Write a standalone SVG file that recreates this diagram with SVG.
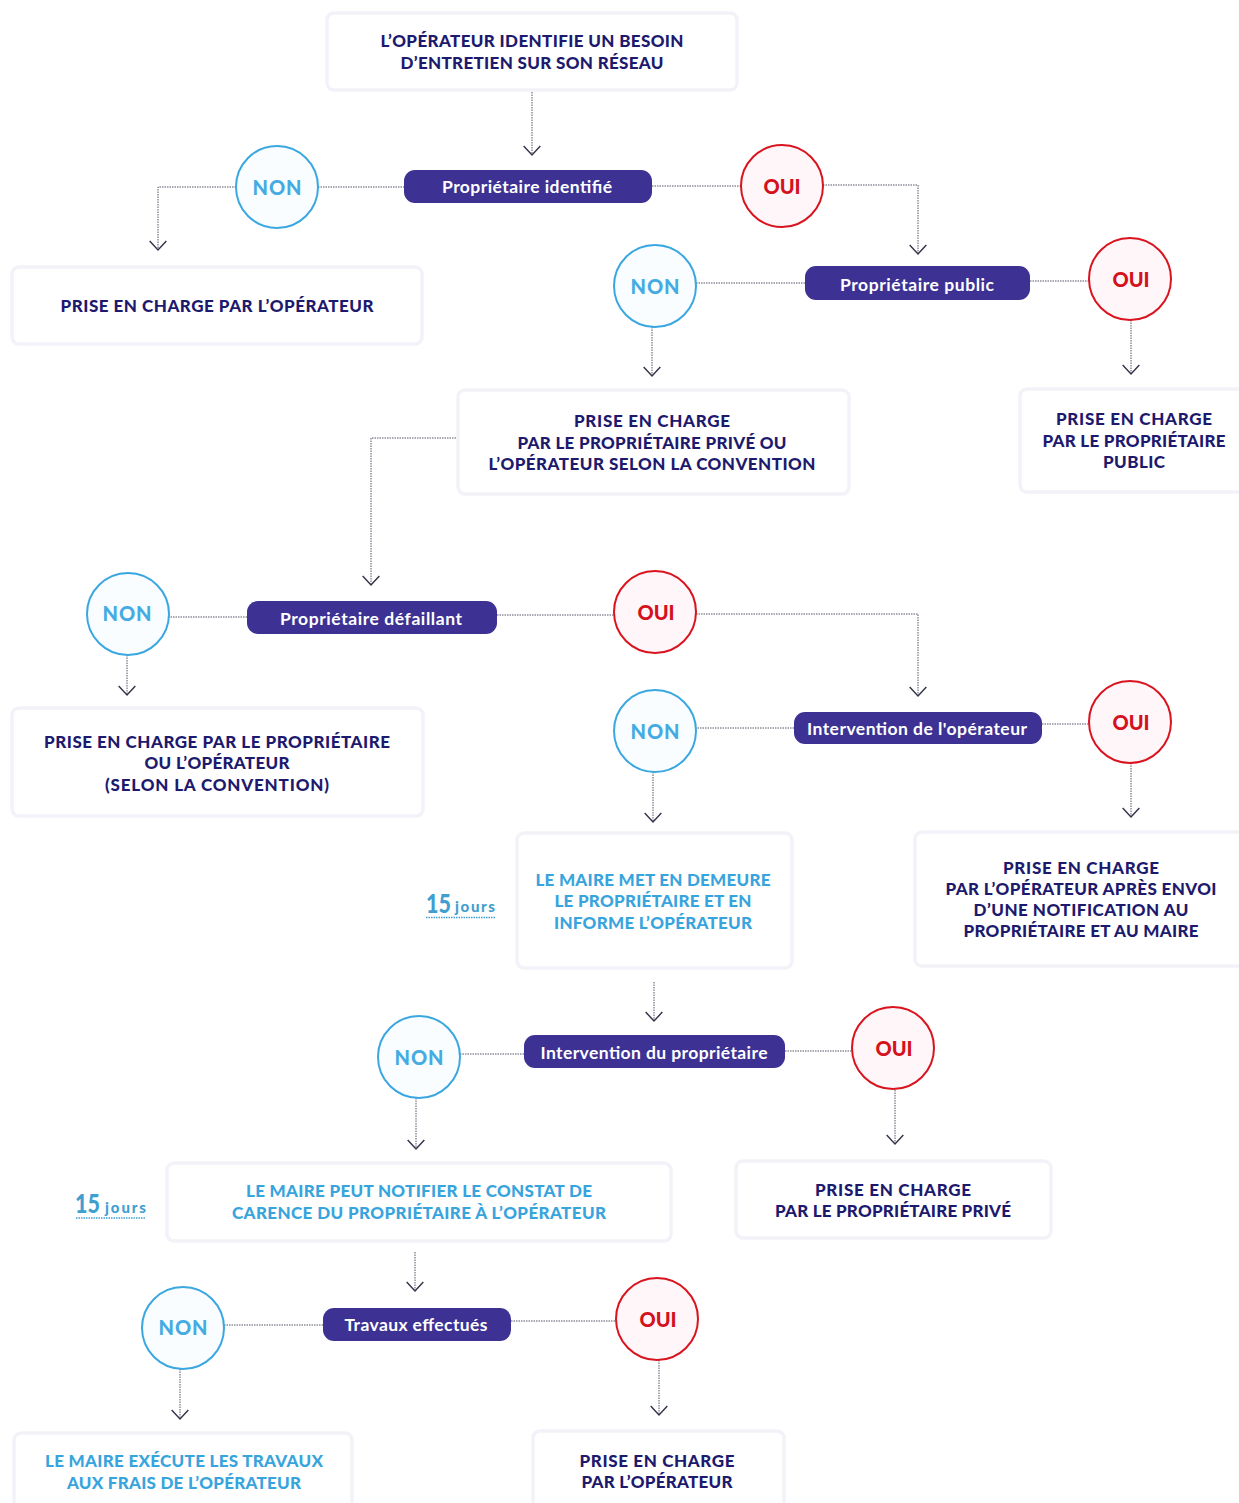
<svg xmlns="http://www.w3.org/2000/svg" width="1239" height="1503" viewBox="0 0 1239 1503">
<defs>
<marker id="a" markerUnits="userSpaceOnUse" markerWidth="20" markerHeight="14" refX="9" refY="9.5" viewBox="0 0 18 11" orient="auto-start-reverse" overflow="visible">
<path d="M1.5 1.500L9 9.500L16.500 1.500" transform="rotate(-90 9 9.500)" fill="none" stroke="#33334a" stroke-width="1.300" stroke-dasharray="none"/>
</marker>
<style>
text{font-family:"Lato","Open Sans","Liberation Sans",sans-serif;text-anchor:middle}
.box{fill:#fff;stroke:#f2f2f9;stroke-width:3.500}
.t{font-size:17px;font-weight:900;fill:#1d1a6e}
.b{font-size:17px;font-weight:900;fill:#38a4dd}
.pill{fill:#3d3294}
.p{font-size:17.500px;font-weight:700;fill:#fff}
.non{fill:#fafdff;stroke:#3aa7e0;stroke-width:2}
.oui{fill:#fef6f9;stroke:#d9141f;stroke-width:2}
.nt{font-size:20px;font-weight:900;fill:#45abe2}
.ot{font-size:20px;font-weight:900;fill:#d4111c}
.c{fill:none;stroke:#55556a;stroke-width:1;stroke-dasharray:1.500 1}
.ar{marker-end:url(#a)}
.big{font-size:26px;font-weight:900;fill:#3f9fd0;text-anchor:start}
.sm{font-size:15px;font-weight:900;fill:#3f9fd0;text-anchor:start}
.u{stroke:#3f9fd0;stroke-width:1.500;stroke-dasharray:1.500 1;fill:none}
</style>
</defs>
<g id="connectors">
<path class="c ar" d="M532 92V155"/>
<path class="c" d="M318 187H404"/>
<path class="c ar" d="M236 187H158V250"/>
<path class="c" d="M652 186H741"/>
<path class="c ar" d="M823 185H918V254"/>
<path class="c" d="M805 283H696"/>
<path class="c ar" d="M652 327V376"/>
<path class="c" d="M1030 281H1089"/>
<path class="c ar" d="M1131 320V374"/>
<path class="c ar" d="M456 438H371V585"/>
<path class="c" d="M247 617H169"/>
<path class="c ar" d="M127 655V695"/>
<path class="c" d="M497 615H614"/>
<path class="c ar" d="M696 614H918V696"/>
<path class="c" d="M794 728H696"/>
<path class="c ar" d="M653 772V822"/>
<path class="c" d="M1042 724H1089"/>
<path class="c ar" d="M1131 763V817"/>
<path class="c ar" d="M654 982V1021"/>
<path class="c" d="M524 1054H460"/>
<path class="c" d="M785 1051H853"/>
<path class="c ar" d="M416 1098V1149"/>
<path class="c ar" d="M895 1090V1144"/>
<path class="c ar" d="M415 1252V1291"/>
<path class="c" d="M323 1325H224"/>
<path class="c" d="M511 1321H617"/>
<path class="c ar" d="M180 1369V1419"/>
<path class="c ar" d="M659 1360V1415"/>
</g>
<g id="box-besoin"><rect class="box" x="327" y="13" width="410" height="77" rx="7"/><text class="t" x="532" y="47" textLength="303">L’OPÉRATEUR IDENTIFIE UN BESOIN</text><text class="t" x="532" y="68.500" textLength="263">D’ENTRETIEN SUR SON RÉSEAU</text></g>
<g id="box-operateur"><rect class="box" x="12" y="267" width="410" height="77" rx="7"/><text class="t" x="217" y="312" textLength="313">PRISE EN CHARGE PAR L’OPÉRATEUR</text></g>
<g id="box-prive-convention"><rect class="box" x="458" y="390" width="391" height="104" rx="7"/><text class="t" x="652" y="427" textLength="156">PRISE EN CHARGE</text><text class="t" x="652" y="449" textLength="269">PAR LE PROPRIÉTAIRE PRIVÉ OU</text><text class="t" x="652" y="470" textLength="327">L’OPÉRATEUR SELON LA CONVENTION</text></g>
<g id="box-public"><rect class="box" x="1020" y="389" width="225" height="103" rx="7"/><text class="t" x="1134" y="425" textLength="156">PRISE EN CHARGE</text><text class="t" x="1134" y="447" textLength="183">PAR LE PROPRIÉTAIRE</text><text class="t" x="1134" y="468" textLength="62">PUBLIC</text></g>
<g id="box-defaillant-non"><rect class="box" x="12" y="708" width="411" height="108" rx="7"/><text class="t" x="217" y="748" textLength="346">PRISE EN CHARGE PAR LE PROPRIÉTAIRE</text><text class="t" x="217" y="769" textLength="145">OU L’OPÉRATEUR</text><text class="t" x="217" y="791" textLength="224">(SELON LA CONVENTION)</text></g>
<g id="box-maire-demeure"><rect class="box" x="517" y="833" width="275" height="135" rx="7"/><text class="b" x="653" y="886" textLength="235">LE MAIRE MET EN DEMEURE</text><text class="b" x="653" y="907" textLength="197">LE PROPRIÉTAIRE ET EN</text><text class="b" x="653" y="929" textLength="198">INFORME L’OPÉRATEUR</text></g>
<g id="box-notification"><rect class="box" x="915" y="832" width="330" height="134" rx="7"/><text class="t" x="1081" y="874" textLength="156">PRISE EN CHARGE</text><text class="t" x="1081" y="895" textLength="271">PAR L’OPÉRATEUR APRÈS ENVOI</text><text class="t" x="1081" y="916" textLength="215">D’UNE NOTIFICATION AU</text><text class="t" x="1081" y="937" textLength="235">PROPRIÉTAIRE ET AU MAIRE</text></g>
<g id="box-constat"><rect class="box" x="167" y="1163" width="504" height="78" rx="7"/><text class="b" x="419" y="1197" textLength="346">LE MAIRE PEUT NOTIFIER LE CONSTAT DE</text><text class="b" x="419" y="1218.500" textLength="374">CARENCE DU PROPRIÉTAIRE À L’OPÉRATEUR</text></g>
<g id="box-prive"><rect class="box" x="736" y="1161" width="315" height="77" rx="7"/><text class="t" x="893" y="1196" textLength="156">PRISE EN CHARGE</text><text class="t" x="893" y="1217" textLength="236">PAR LE PROPRIÉTAIRE PRIVÉ</text></g>
<g id="box-travaux-maire"><rect class="box" x="14" y="1433" width="338" height="90" rx="7"/><text class="b" x="184" y="1467" textLength="278">LE MAIRE EXÉCUTE LES TRAVAUX</text><text class="b" x="184" y="1489" textLength="234">AUX FRAIS DE L’OPÉRATEUR</text></g>
<g id="box-fin-operateur"><rect class="box" x="533" y="1431" width="251" height="90" rx="7"/><text class="t" x="657" y="1467" textLength="155">PRISE EN CHARGE</text><text class="t" x="657" y="1488" textLength="151">PAR L’OPÉRATEUR</text></g>
<g id="pill-identifie"><rect class="pill" x="404" y="170" width="248" height="33" rx="11"/><text class="p" x="527" y="193" textLength="170">Propriétaire identifié</text></g>
<g id="pill-public"><rect class="pill" x="805" y="266" width="225" height="34" rx="11"/><text class="p" x="917" y="291" textLength="154">Propriétaire public</text></g>
<g id="pill-defaillant"><rect class="pill" x="247" y="601" width="250" height="33" rx="11"/><text class="p" x="371" y="625" textLength="182">Propriétaire défaillant</text></g>
<g id="pill-intervention-operateur"><rect class="pill" x="794" y="712" width="248" height="32" rx="11"/><text class="p" x="917" y="735" textLength="220">Intervention de l'opérateur</text></g>
<g id="pill-intervention-proprietaire"><rect class="pill" x="524" y="1035" width="261" height="33" rx="11"/><text class="p" x="654" y="1059" textLength="227">Intervention du propriétaire</text></g>
<g id="pill-travaux"><rect class="pill" x="323" y="1308" width="188" height="33" rx="11"/><text class="p" x="416" y="1331" textLength="143">Travaux effectués</text></g>
<g id="non-1"><circle class="non" cx="277" cy="187" r="41"/><text class="nt" x="277" y="195" textLength="49">NON</text></g>
<g id="oui-1"><circle class="oui" cx="782" cy="186" r="41"/><text class="ot" x="782" y="193.500" textLength="37">OUI</text></g>
<g id="non-2"><circle class="non" cx="655" cy="286" r="41"/><text class="nt" x="655" y="294" textLength="49">NON</text></g>
<g id="oui-2"><circle class="oui" cx="1130" cy="279" r="41"/><text class="ot" x="1131" y="286.500" textLength="37">OUI</text></g>
<g id="non-3"><circle class="non" cx="128" cy="614" r="41"/><text class="nt" x="127" y="621" textLength="49">NON</text></g>
<g id="oui-3"><circle class="oui" cx="655" cy="612" r="41"/><text class="ot" x="656" y="619.500" textLength="37">OUI</text></g>
<g id="non-4"><circle class="non" cx="655" cy="731" r="41"/><text class="nt" x="655" y="739" textLength="49">NON</text></g>
<g id="oui-4"><circle class="oui" cx="1130" cy="722" r="41"/><text class="ot" x="1131" y="729.500" textLength="37">OUI</text></g>
<g id="non-5"><circle class="non" cx="419" cy="1057" r="41"/><text class="nt" x="419" y="1065" textLength="49">NON</text></g>
<g id="oui-5"><circle class="oui" cx="893" cy="1048" r="41"/><text class="ot" x="894" y="1055.500" textLength="37">OUI</text></g>
<g id="non-6"><circle class="non" cx="183" cy="1328" r="41"/><text class="nt" x="183" y="1335" textLength="49">NON</text></g>
<g id="oui-6"><circle class="oui" cx="657" cy="1319" r="41"/><text class="ot" x="658" y="1326.500" textLength="37">OUI</text></g>
<g id="delai-1"><text class="big" x="426" y="913" textLength="25" lengthAdjust="spacingAndGlyphs">15</text><text class="sm" x="455" y="912" textLength="40">jours</text><path class="u" d="M426 917.500H495"/></g>
<g id="delai-2"><text class="big" x="75" y="1213" textLength="25" lengthAdjust="spacingAndGlyphs">15</text><text class="sm" x="105" y="1213" textLength="41">jours</text><path class="u" d="M76 1218H146"/></g>
</svg>
